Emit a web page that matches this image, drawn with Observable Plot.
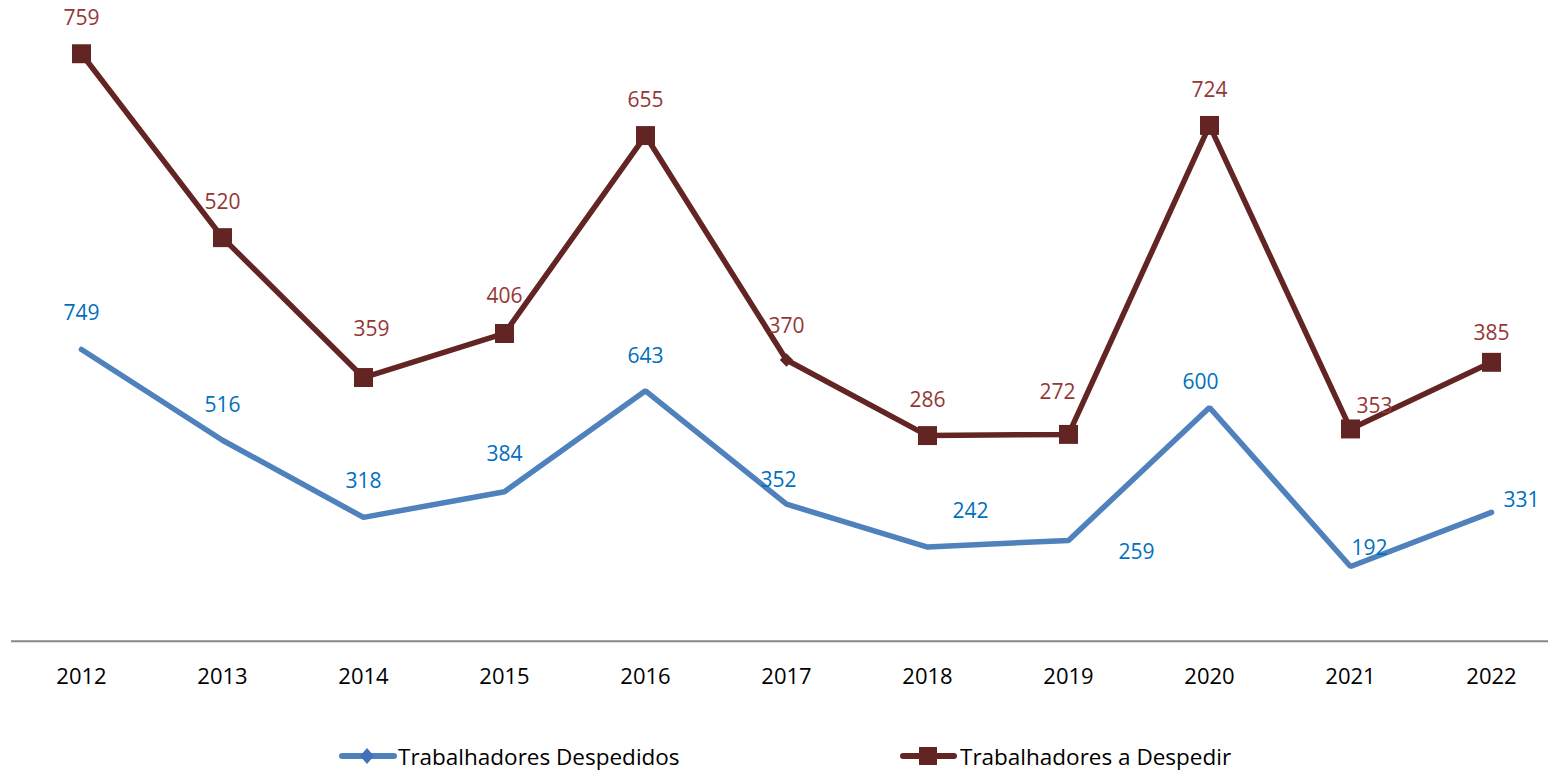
<!DOCTYPE html>
<html>
<head>
<meta charset="utf-8">
<script src="https://cdn.jsdelivr.net/npm/d3@7"></script>
<script src="https://cdn.jsdelivr.net/npm/@observablehq/plot@0.6"></script>
<style>
  html, body { margin: 0; padding: 0; background: #fff; }
  body { position: relative; width: 1548px; height: 772px; overflow: hidden; font-family: "Open Sans", sans-serif; }
  #chart { position: absolute; left: 0; top: 0; }
  .leg { position: absolute; top: 743px; height: 26px; display: flex; align-items: center; font-size: 22.5px; color: #000; white-space: nowrap; }
  .leg svg { display: block; }
</style>
</head>
<body>
<div id="chart"></div>
<div class="leg" style="left:336px">
  <svg width="62" height="26"><line x1="6" y1="13" x2="58" y2="13" stroke="#4F81BD" stroke-width="6" stroke-linecap="round"/><path d="M31,5 L38,13 L31,21 L24,13 Z" fill="#3F72B8"/></svg><span>Trabalhadores Despedidos</span>
</div>
<div class="leg" style="left:898px">
  <svg width="62" height="26"><line x1="5" y1="13" x2="56" y2="13" stroke="#632523" stroke-width="6" stroke-linecap="round"/><rect x="21" y="4" width="18" height="18" fill="#632523"/></svg><span>Trabalhadores a Despedir</span>
</div>
<script>
// ---- data ----
const years = [2012, 2013, 2014, 2015, 2016, 2017, 2018, 2019, 2020, 2021, 2022];
const despedidos = [749, 516, 318, 384, 643, 352, 242, 259, 600, 192, 331];
const aDespedir = [759, 520, 359, 406, 655, 370, 286, 272, 724, 353, 385];

// ---- layout (label nudges, px) ----
const blueDx = [0, 0, 0, 0, 0, -8, 43, 68, -9, 19, 30];
const blueDy = [-36, -35, -36, -37, -35, -24, -36, 12, -25, -18, -12];
const redDx = [0, 0, 8, 0, 0, 0, 0, -11, 0, 24, 0];
const redDy = [-35, -35, -48, -37, -35, -34, -35, -42, -35, -23, -29];

// stacked line chart: second series drawn on top of the first
const rows = years.map((yr, i) => ({
  year: String(yr),
  desp: despedidos[i],
  adesp: aDespedir[i],
  top: despedidos[i] + aDespedir[i]
}));

const blue = "#4F81BD", red = "#632523", blueText = "#0070C0", redText = "#953735";

const labelMarks = [];
rows.forEach((r, i) => {
  labelMarks.push(Plot.text([r], {x: "year", y: "desp", text: d => String(d.desp), fill: blueText, fontSize: 21, dx: blueDx[i], dy: blueDy[i], lineAnchor: "middle", textAnchor: "middle"}));
  labelMarks.push(Plot.text([r], {x: "year", y: "top", text: d => String(d.adesp), fill: redText, fontSize: 21, dx: redDx[i], dy: redDy[i], lineAnchor: "middle", textAnchor: "middle"}));
});

const chart = Plot.plot({
  width: 1548,
  height: 725,
  marginLeft: 81,
  marginRight: 57,
  marginTop: 17.4,
  marginBottom: 84.2,
  style: {fontFamily: "Open Sans, sans-serif", background: "#fff"},
  x: {type: "point", domain: years.map(String), padding: 0, label: null},
  y: {domain: [0, 1600], axis: null},
  marks: [
    Plot.ruleY([0], {stroke: "#878787", strokeWidth: 2, insetLeft: -70, insetRight: -57}),
    Plot.axisX({tickSize: 0, tickPadding: 27, fontSize: 22, fill: "#000", label: null}),
    Plot.line(rows, {x: "year", y: "desp", stroke: blue, strokeWidth: 5.5, strokeLinejoin: "miter"}),
    Plot.line(rows, {x: "year", y: "top", stroke: red, strokeWidth: 5.5, strokeLinejoin: "miter"}),
    Plot.dot(rows.filter(r => r.year !== "2017"), {x: "year", y: "top", symbol: "square", r: 10.7, fill: red}),
    Plot.dot(rows.filter(r => r.year === "2017"), {x: "year", y: "top", symbol: "diamond2", r: 6, fill: red}),
    ...labelMarks
  ]
});
document.getElementById("chart").appendChild(chart);
</script>
</body>
</html>
